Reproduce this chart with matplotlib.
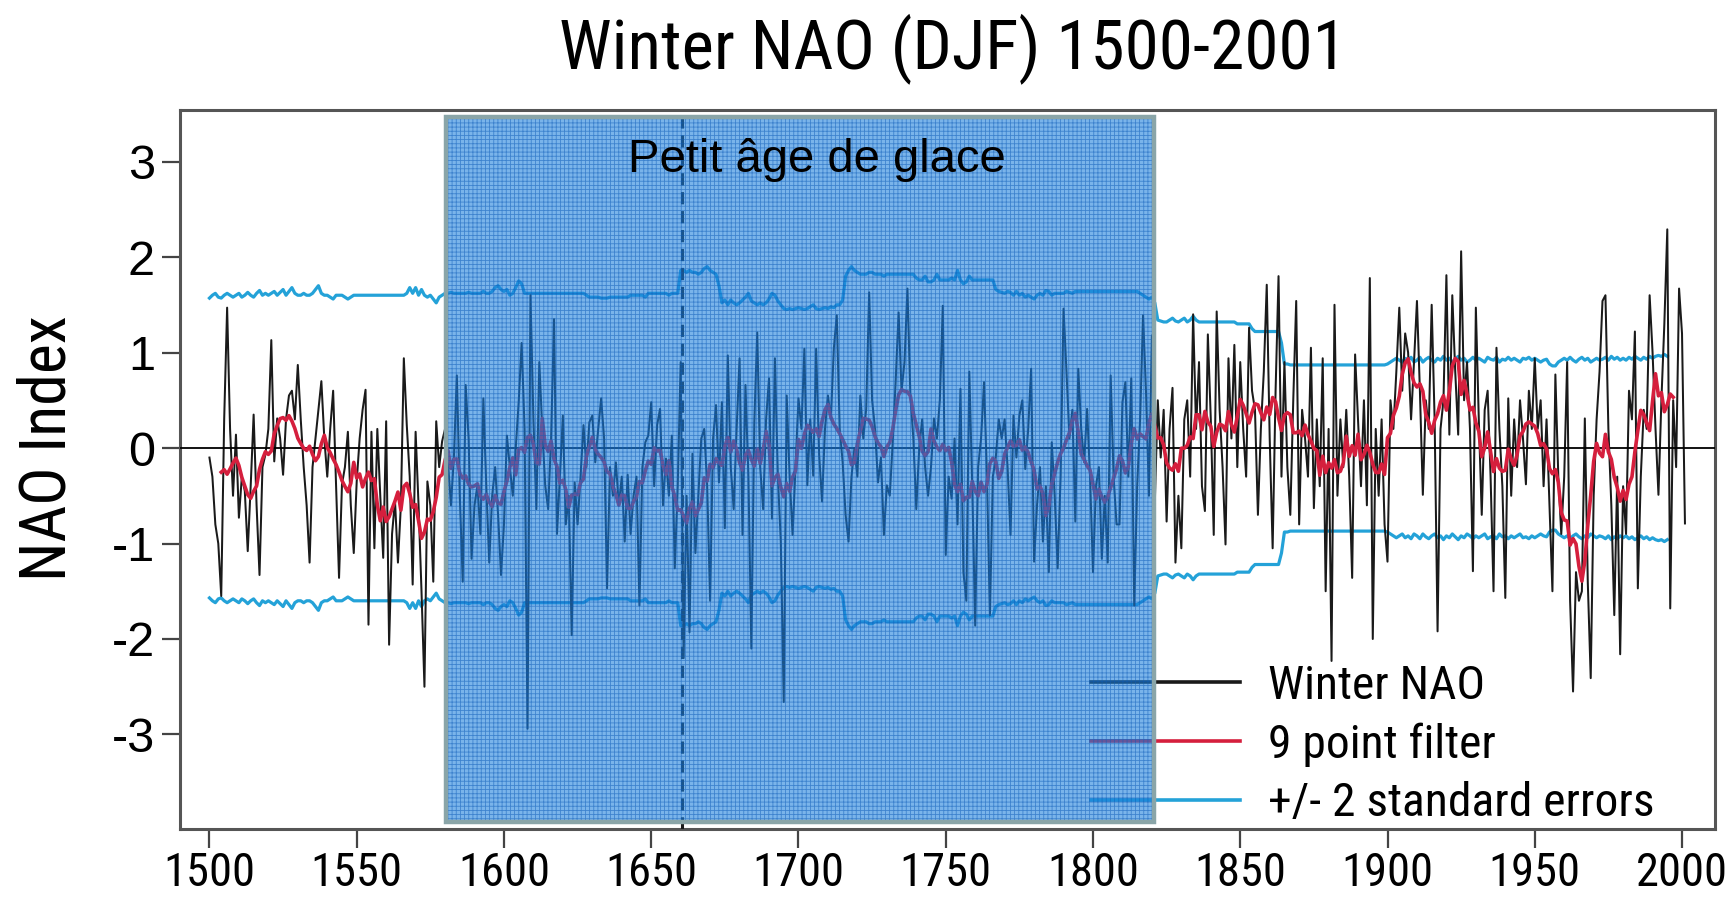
import os
import matplotlib
matplotlib.use('Agg')
import matplotlib.pyplot as plt
import numpy as np
import pandas as pd
from matplotlib import font_manager
from matplotlib.font_manager import FontProperties
from matplotlib.patches import Rectangle

# Winter NAO index (DJF), one value per year 1500-2001
nao = [
    -0.1, -0.3, -0.8, -1.0, -1.55, 0.3, 1.47, 0.2, -0.5, 0.14,
    -0.73, -0.3, -0.45, -1.08, -0.4, 0.35, -0.6, -1.33, -0.2, -0.07,
    0.2, 1.13, -0.14, 0.31, 0.1, -0.28, 0.3, 0.55, 0.6, 0.3,
    0.87, 0.3, -0.2, -0.6, -1.2, -0.2, 0.1, 0.4, 0.7, 0.1,
    -0.3, 0.2, 0.6, -0.4, -1.36, -0.38, -0.2, 0.17, -0.6, -1.1,
    -0.35, 0.1, 0.4, 0.61, -1.85, 0.17, -1.05, 0.2, -0.5, -1.15,
    0.28, -2.06, -0.9, -0.55, -1.2, -0.6, 0.94, 0.24, -0.3, -1.43,
    0.17, -0.6, -1.5, -2.5, -0.35, -0.6, -1.4, 0.28, -0.2, 0.07,
    0.2, -0.15, -0.6, -0.1, 0.76, -0.5, -1.4, 0.66, 0.1, -1.16,
    -0.6, -0.39, -0.9, 0.52, -0.4, -1.2, -0.5, -0.2, -0.7, -1.33,
    -0.8, 0.13, -0.2, -0.5, 0.0, 0.48, 1.1, 0.2, -2.94, 1.6,
    0.3, -0.64, 0.9, 0.2, -0.39, -0.64, 0.1, 1.35, -0.9, -0.3,
    0.34, -0.8, -0.5, -1.96, -0.36, -0.8, -0.3, 0.24, -0.2, 0.27,
    0.34, -0.15, 0.2, 0.52, 0.1, -1.47, -0.2, -0.5, -0.15, -0.6,
    -0.3, -0.98, -0.28, -0.9, -0.5, -0.3, -1.65, -0.2, 0.06, 0.13,
    0.48, -0.4, 0.24, 0.41, -0.6, -0.11, -0.5, 0.13, -1.26, -0.4,
    0.9, -2.2, -0.5, -1.93, -0.06, -1.1, -0.5, 0.1, 0.2, -0.4,
    -1.6, 0.1, 0.45, -0.36, 0.48, -0.84, 0.97, -0.2, -0.64, 0.2,
    0.94, -0.91, 0.66, -0.3, -2.1, 0.27, 1.21, -0.2, -0.64, 0.3,
    0.73, -0.74, 0.94, -0.3, -0.98, -2.66, 0.55, -0.3, -0.91, -0.2,
    0.52, 0.2, 1.04, -0.39, 0.3, -0.29, 1.04, -0.06, -0.56, 0.2,
    0.55, 0.3, 1.04, 1.39, 0.2, -0.15, -0.7, -0.98, -0.3, 0.0,
    -0.3, 0.55, 0.1, 0.41, 1.63, 0.5, 0.2, -0.36, -0.1, -0.91,
    -0.39, -0.5, 0.06, 0.7, 1.42, 0.6, 0.9, 1.67, 0.55, 0.1,
    -0.64, 0.0, 0.3, -0.2, -0.5, -0.2, 0.31, 0.1, 0.5, 1.49,
    -1.12, -0.3, -0.53, 0.1, -0.8, 0.62, -1.3, -1.6, 0.8, -0.4,
    -1.86, -0.2, 0.1, 0.69, -0.3, -1.75, -0.3, -0.1, 0.3, 0.1,
    0.3, -0.2, -0.91, 0.34, -0.1, 0.34, 0.5, -0.22, 0.2, 0.83,
    -1.19, -0.6, -0.2, -0.98, -0.4, -1.3, 0.06, -0.5, -1.26, -0.3,
    1.46, 0.8, 0.1, 0.4, -0.77, 0.83, 0.2, -0.15, 0.41, -0.3,
    -1.3, -0.4, -0.2, -1.16, -0.5, -1.2, 0.76, -0.3, -0.8, -0.8,
    0.48, 0.69, -0.3, 0.73, -1.65, -0.4, 0.3, 1.39, 0.59, -0.5,
    1.18, -0.56, 0.5, -0.1, 0.4, -0.77, 0.2, 0.63, -1.2, -0.5,
    -1.05, 0.3, 0.5, -0.3, 1.4, 0.2, 0.9, -0.4, -0.66, 1.19,
    0.3, -0.91, 1.43, 0.4, -0.2, -1.01, 0.94, 0.1, 1.08, -0.2,
    0.9, 0.2, -0.3, 1.26, 0.6, 0.4, -0.7, 0.2, 0.8, 1.71,
    0.1, -1.05, 0.6, 1.8, -0.3, 0.9, -0.2, -0.7, 0.5, 1.54,
    -0.8, 0.4, 0.1, -0.3, 1.05, -0.63, 0.3, -0.4, 0.94, -1.5,
    0.2, -2.23, 1.5, -0.5, 0.3, -0.2, 0.4, -0.3, -1.36, 0.98,
    0.3, -0.4, 0.5, -0.6, 1.78, -2.0, 0.2, -0.5, 0.3, -0.8,
    -1.19, 0.5, 0.2, 0.8, 1.47, 0.6, 1.2, 1.0, 0.3, 0.9,
    1.54, 0.6, -0.49, 0.5, 0.2, 1.5, 0.3, -1.92, 0.2, 0.5,
    1.81, 0.14, 1.6, 0.8, 0.14, 2.06, 0.5, 0.9, 0.2, -1.29,
    1.47, 0.3, -0.7, 0.4, 0.6, -0.3, -1.5, 1.05, 0.2, -0.4,
    -1.57, 0.52, -0.5, 0.3, -0.2, 0.5, 0.1, -0.38, 0.6, 0.2,
    0.94, 0.2, 0.5, -0.4, 0.3, -0.6, -1.5, 0.77, -0.3, -0.9,
    -0.3, 0.9, -1.6, -2.55, -1.3, -1.6, -1.5, 0.31, -1.4, -2.41,
    -0.5, 0.3, 0.8, 1.54, 1.6, 0.2, -0.6, -1.75, -0.3, -2.16,
    -0.4, -0.9, 0.6, 0.3, 1.22, -1.47, -0.3, 0.4, 0.2, 1.6,
    1.0, 0.2, -0.49, 0.5, 1.3, 2.29, -1.68, 0.5, -0.2, 1.67,
    1.2, -0.79,
]
years = list(range(1500, 1500 + len(nao)))

# two standard errors of the reconstruction, 1500-1995
se2 = [
    1.57, 1.6, 1.62, 1.58, 1.57, 1.6, 1.62, 1.6, 1.58, 1.6,
    1.62, 1.58, 1.6, 1.63, 1.6, 1.58, 1.62, 1.65, 1.6, 1.62,
    1.6, 1.62, 1.64, 1.6, 1.63, 1.66, 1.6, 1.64, 1.68, 1.62,
    1.6, 1.6, 1.62, 1.6, 1.6, 1.62, 1.66, 1.7, 1.62, 1.6,
    1.6, 1.58, 1.56, 1.6, 1.6, 1.6, 1.58, 1.56, 1.58, 1.6,
    1.6, 1.6, 1.6, 1.6, 1.6, 1.6, 1.6, 1.6, 1.6, 1.6,
    1.6, 1.6, 1.6, 1.6, 1.6, 1.6, 1.6, 1.62, 1.68, 1.62,
    1.68, 1.6, 1.66, 1.6, 1.58, 1.6, 1.56, 1.52, 1.58, 1.6,
    1.62, 1.62, 1.63, 1.62, 1.62, 1.62, 1.62, 1.62, 1.63, 1.62,
    1.62, 1.62, 1.62, 1.64, 1.62, 1.62, 1.64, 1.68, 1.7, 1.66,
    1.64, 1.66, 1.6, 1.62, 1.68, 1.75, 1.72, 1.62, 1.62, 1.62,
    1.62, 1.62, 1.62, 1.62, 1.62, 1.62, 1.62, 1.62, 1.62, 1.62,
    1.62, 1.62, 1.62, 1.62, 1.62, 1.62, 1.62, 1.62, 1.6, 1.58,
    1.58, 1.58, 1.58, 1.57, 1.57, 1.57, 1.58, 1.58, 1.58, 1.58,
    1.58, 1.58, 1.58, 1.6, 1.6, 1.6, 1.6, 1.6, 1.58, 1.62,
    1.62, 1.62, 1.62, 1.62, 1.62, 1.62, 1.6, 1.62, 1.62, 1.62,
    1.86, 1.86, 1.84, 1.86, 1.84, 1.84, 1.82, 1.84, 1.88, 1.9,
    1.86, 1.84, 1.82, 1.7, 1.52, 1.55, 1.5, 1.55, 1.52, 1.5,
    1.52, 1.55, 1.58, 1.62, 1.54, 1.52, 1.5, 1.52, 1.5, 1.52,
    1.56, 1.62, 1.6, 1.54, 1.5, 1.46, 1.45, 1.46, 1.45, 1.46,
    1.47, 1.46, 1.45, 1.46, 1.48, 1.5, 1.46, 1.45, 1.46, 1.47,
    1.46, 1.48, 1.47, 1.5, 1.5, 1.55, 1.8, 1.86, 1.9, 1.86,
    1.84, 1.82, 1.82, 1.82, 1.84, 1.84, 1.82, 1.82, 1.82, 1.8,
    1.82, 1.82, 1.82, 1.82, 1.82, 1.82, 1.82, 1.82, 1.82, 1.82,
    1.78, 1.76, 1.76, 1.8, 1.74, 1.74, 1.76, 1.82, 1.76, 1.76,
    1.76, 1.76, 1.78, 1.76, 1.86, 1.76, 1.72, 1.74, 1.8, 1.76,
    1.76, 1.76, 1.76, 1.76, 1.76, 1.76, 1.76, 1.66, 1.64, 1.63,
    1.62, 1.64, 1.63, 1.6, 1.64, 1.6, 1.62, 1.58, 1.6, 1.58,
    1.56, 1.6, 1.62, 1.6, 1.65, 1.64, 1.6, 1.62, 1.62, 1.62,
    1.62, 1.64, 1.63, 1.62, 1.64, 1.64, 1.64, 1.64, 1.64, 1.64,
    1.64, 1.64, 1.64, 1.64, 1.64, 1.64, 1.64, 1.64, 1.64, 1.64,
    1.64, 1.64, 1.64, 1.64, 1.64, 1.64, 1.62, 1.6, 1.58, 1.56,
    1.58, 1.52, 1.34, 1.33, 1.32, 1.32, 1.34, 1.36, 1.33, 1.32,
    1.34, 1.36, 1.32, 1.34, 1.38, 1.34, 1.32, 1.32, 1.32, 1.32,
    1.32, 1.32, 1.32, 1.32, 1.32, 1.32, 1.32, 1.32, 1.32, 1.3,
    1.3, 1.3, 1.3, 1.3, 1.25, 1.22, 1.22, 1.22, 1.22, 1.22,
    1.22, 1.22, 1.22, 1.22, 1.1, 0.88, 0.88, 0.87, 0.87, 0.87,
    0.87, 0.87, 0.87, 0.87, 0.87, 0.87, 0.87, 0.87, 0.87, 0.87,
    0.87, 0.87, 0.87, 0.87, 0.87, 0.87, 0.87, 0.87, 0.87, 0.87,
    0.87, 0.87, 0.87, 0.87, 0.87, 0.87, 0.87, 0.87, 0.87, 0.87,
    0.88, 0.9, 0.92, 0.94, 0.92, 0.9, 0.94, 0.92, 0.95, 0.9,
    0.92, 0.95, 0.9, 0.93, 0.95, 0.92, 0.9, 0.94, 0.92, 0.96,
    0.92, 0.94, 0.9, 0.93, 0.96, 0.92, 0.94, 0.9, 0.92, 0.95,
    0.92, 0.94, 0.92, 0.9, 0.95, 0.93, 0.92, 0.95, 0.9, 0.93,
    0.92, 0.95, 0.92, 0.94, 0.92, 0.9, 0.94, 0.93, 0.95, 0.92,
    0.94, 0.92, 0.9, 0.92, 0.93, 0.88, 0.86, 0.86, 0.9, 0.92,
    0.94, 0.92, 0.95, 0.92, 0.9, 0.93, 0.95, 0.92, 0.94, 0.9,
    0.92, 0.94, 0.92, 0.93, 0.95, 0.92, 0.96, 0.93, 0.95, 0.92,
    0.94, 0.92, 0.95, 0.93, 0.96, 0.94, 0.92, 0.95, 0.93, 0.96,
    0.94, 0.96, 0.97, 0.96, 0.98, 0.96,
]
se_years = list(range(1500, 1500 + len(se2)))

x_ticks = [1500, 1550, 1600, 1650, 1700, 1750, 1800, 1850, 1900, 1950, 2000]
y_ticks = [-3, -2, -1, 0, 1, 2, 3]
lia_start, lia_end = 1580.3, 1820.7
dashed_year = 1660.5

DPI = 100
W, H = 1728, 913
plt.rcParams['axes.unicode_minus'] = False
REGULAR = 'Liberation Sans'


def find_narrow_font():
    skip = ('bold', 'italic', 'oblique', 'light', 'thin', 'medium', 'black',
            'semibold', 'extrabold', 'heavy', 'extracondensed', 'semicondensed')
    files = [f.fname for f in font_manager.fontManager.ttflist]
    for key in ('liberationsansnarrow', 'arialnarrow', 'notosans-condensed',
                'robotocondensed', 'dejavusanscondensed', 'condensed', 'narrow'):
        for fn in files:
            base = os.path.basename(fn).lower().replace(' ', '')
            if key in base and not any(s in base for s in skip):
                return fn
    return None


narrow_file = find_narrow_font()


def narrow_props(size):
    if narrow_file:
        return FontProperties(fname=narrow_file, size=size)
    return FontProperties(family=REGULAR, size=size)


fig = plt.figure(figsize=(W / DPI, H / DPI), dpi=DPI)
renderer = fig.canvas.get_renderer()


def fit_size(text, target_px, base=40):
    # font size that gives the wanted rendered width
    t = fig.text(0, 0, text, fontproperties=narrow_props(base))
    width = t.get_window_extent(renderer).width
    t.remove()
    return base * target_px / width


def text_height(text, size):
    t = fig.text(0, 0, text, fontproperties=narrow_props(size))
    h = t.get_window_extent(renderer).height
    t.remove()
    return h


title_size = fit_size('Winter NAO (DJF) 1500-2001', 788)
ylabel_size = fit_size('NAO Index', 266)
xtick_size = fit_size('1500', 92)
legend_size = fit_size('+/- 2 standard errors', 386)

df = pd.DataFrame({'year': years, 'nao': nao})
# centred 9 point filter
df['filt'] = df['nao'].rolling(9, center=True).mean()

ax_left, ax_right, ax_top, ax_bottom = 180, 1715, 110, 829
ax = fig.add_axes([ax_left / W, 1 - ax_bottom / H, (ax_right - ax_left) / W,
                   (ax_bottom - ax_top) / H])

band_color = '#24a2d8'
ax.plot(se_years, se2, color=band_color, lw=2.3, zorder=2)
ax.plot(se_years, [-v for v in se2], color=band_color, lw=2.3, zorder=2)
ax.plot(df['year'], df['nao'], color='#1a1a1a', lw=1.45, zorder=3,
        label='Winter NAO')
ax.plot(df['year'], df['filt'], color='#d51f3d', lw=2.6, zorder=4,
        label='9 point filter')
ax.plot([], [], color=band_color, lw=2.3, label='+/- 2 standard errors')
ax.axhline(0, color='black', lw=1.3, zorder=3.5)
ax.axvline(dashed_year, color='#1a1a1a', lw=2.2, ls=(0, (4, 2.2)), zorder=3)

ax.set_xlim(1490, 2011.2)
ax.set_ylim(-3.99, 3.54)
ax.set_xticks(x_ticks)
ax.set_yticks(y_ticks)
ax.tick_params(axis='x', direction='out', length=14, width=1.6,
               color='#444444', pad=2)
ax.tick_params(axis='y', direction='out', length=13, width=1.6,
               color='#444444', pad=5, labelsize=35)
for lab in ax.get_xticklabels():
    lab.set_fontproperties(narrow_props(xtick_size))
for lab in ax.get_yticklabels():
    lab.set_fontfamily(REGULAR)
for sp in ax.spines.values():
    sp.set_color('#555555')
    sp.set_linewidth(2.2)

# legend geometry from the reference, in pixels
em = legend_size * DPI / 72
row_h = text_height('Winter NAO', legend_size)
first_row_y = 686
leg = ax.legend(loc='upper left',
                bbox_to_anchor=((1091 - ax_left) / (ax_right - ax_left),
                                (ax_bottom - (first_row_y - row_h / 2)) / (ax_bottom - ax_top)),
                frameon=False, borderpad=0, borderaxespad=0,
                handlelength=149 / em, handletextpad=28 / em,
                labelspacing=max(0.0, (58.5 - row_h) / em),
                prop=narrow_props(legend_size))
for line in leg.get_lines():
    line.set_linewidth(2.6)
leg.set_zorder(5)

# "Petit age de glace" overlay: translucent blue block with a fine grid
plt.rcParams['hatch.linewidth'] = 0.6
rect_w = lia_end - lia_start
ax.add_patch(Rectangle((lia_start, -3.92), rect_w, 7.39, facecolor='#1a7fdc',
                       edgecolor='none', alpha=0.58, zorder=6))
ax.add_patch(Rectangle((lia_start, -3.92), rect_w, 7.39, facecolor='none',
                       edgecolor='#0d5cb8', hatch='++++', lw=0, alpha=0.55,
                       zorder=6.1))
ax.add_patch(Rectangle((lia_start, -3.92), rect_w, 7.39, fill=False,
                       edgecolor='#8aa5a8', lw=3.2, zorder=6.2))
ax.text(1706.4, 3.02, 'Petit âge de glace', fontsize=34, family=REGULAR,
        ha='center', va='center', color='black', zorder=7)

fig.text(953 / W, 1 - 68 / H, 'Winter NAO (DJF) 1500-2001', ha='center',
         va='baseline', fontproperties=narrow_props(title_size))
fig.text(47 / W, 1 - 448 / H, 'NAO Index', rotation=90, ha='center',
         va='center', fontproperties=narrow_props(ylabel_size))

fig.savefig('out.png', dpi=DPI)
